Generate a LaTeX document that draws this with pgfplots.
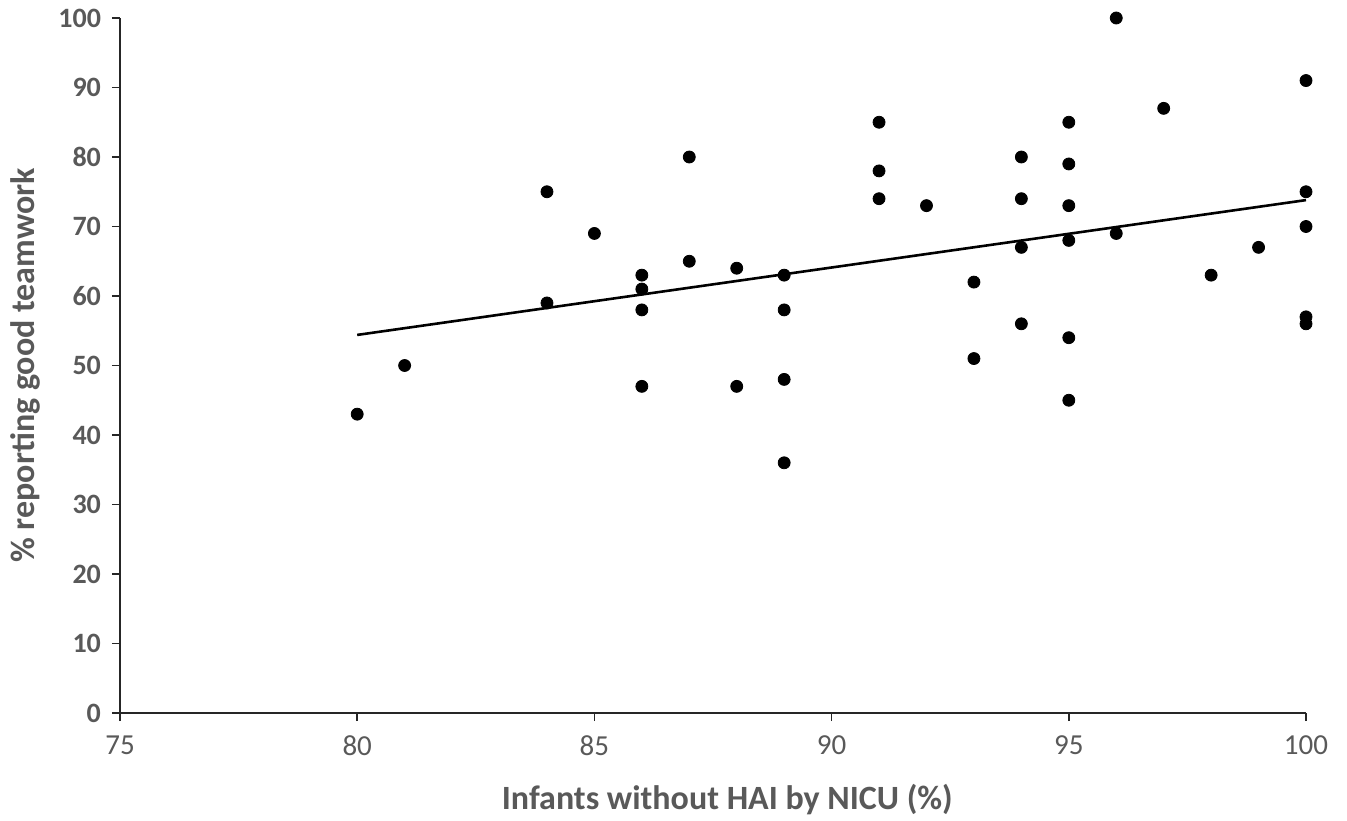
\documentclass[border=0pt]{standalone}
\usepackage{pgfplots}
\pgfplotsset{compat=1.18}
\usepackage{fontspec}
\setmainfont{Carlito}
\definecolor{txtgray}{HTML}{595959}
\begin{document}
\begin{tikzpicture}
\path[use as bounding box] (-60pt,-53.5pt) rectangle (613.5pt,356.5pt);
\begin{axis}[
    scale only axis,
    width=593pt, height=347.5pt,
    xmin=75, xmax=100, ymin=0, ymax=100,
    xtick={75,80,...,100}, ytick={0,10,...,100},
    axis x line=bottom, axis y line=left,
    axis line style={-, line width=0.9pt, black!85},
    tick style={black!85, line width=0.8pt},
    tick align=outside, major tick length=4pt,
    /pgf/number format/assume math mode=true,
    yticklabel style={font=\fontsize{14}{16}\selectfont\bfseries, text=txtgray, xshift=-2pt},
    xticklabel style={font=\fontsize{14.5}{16}\selectfont, text=txtgray, yshift=-4pt},
    xlabel={Infants without HAI by NICU (\%)},
    ylabel={\% reporting good teamwork},
    label style={font=\fontsize{17}{20}\selectfont\bfseries, text=txtgray},
    xlabel style={at={(axis description cs:0.512,-0.125)}, anchor=center},
    ylabel style={at={(axis description cs:-0.080,0.5)}, anchor=center},
    clip=false,
]
\addplot[only marks, mark=*, mark size=3pt, black] coordinates {
(80,43) (81,50) (84,75) (84,59) (85,69)
(86,63) (86,61) (86,58) (86,47)
(87,80) (87,65) (88,64) (88,47)
(89,63) (89,58) (89,48) (89,36)
(91,85) (91,78) (91,74) (92,73)
(93,62) (93,51)
(94,80) (94,74) (94,67) (94,56)
(95,85) (95,79) (95,73) (95,68) (95,54) (95,45)
(96,100) (96,69) (97,87) (98,63) (99,67)
(100,91) (100,75) (100,70) (100,57) (100,56)
};
\addplot[black, line width=1.3pt] coordinates {(80,54.4) (100,73.8)};
\end{axis}
\end{tikzpicture}
\end{document}
